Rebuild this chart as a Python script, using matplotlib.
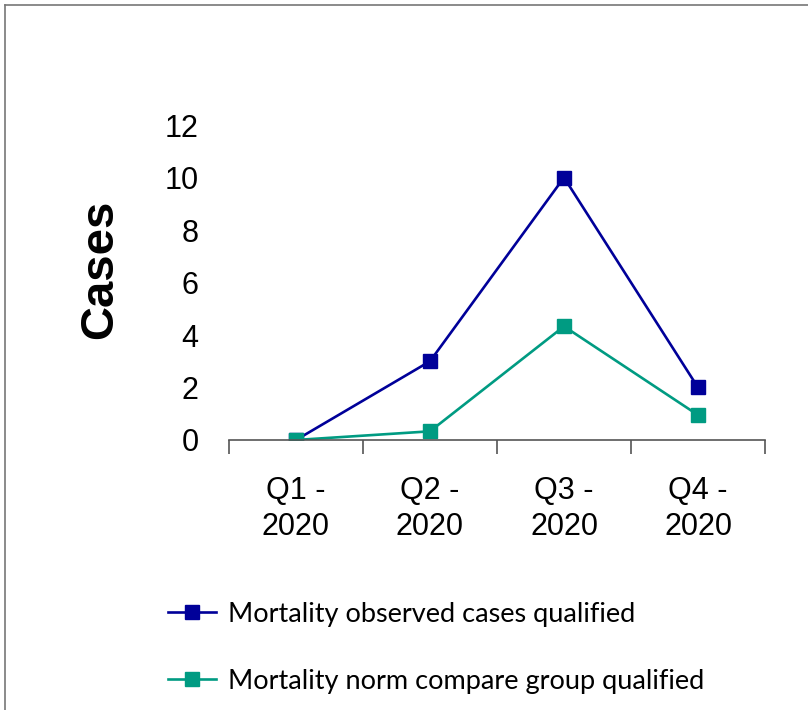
import numpy as np
import matplotlib.pyplot as plt
from matplotlib.lines import Line2D

# data
quarters = ['Q1 -\n2020', 'Q2 -\n2020', 'Q3 -\n2020', 'Q4 -\n2020']
observed = [0, 3, 10, 2]
norm_group = [0, 0.33, 4.33, 0.95]
series_names = ['Mortality observed cases qualified',
                'Mortality norm compare group qualified']
y_ticks = [0, 2, 4, 6, 8, 10, 12]

blue = '#000099'
green = '#009B82'

fig = plt.figure(figsize=(8.08, 7.10), dpi=100)
ax = fig.add_axes([0.2834, 0.3803, 0.6634, 0.4436])

x = np.arange(len(quarters))
l1, = ax.plot(x, observed, color=blue, lw=1.9, marker='s', markersize=9.5)
l2, = ax.plot(x, norm_group, color=green, lw=1.9, marker='s', markersize=9.5)

ax.set_xlim(-0.5, len(quarters) - 0.5)
ax.set_ylim(0, 12)
ax.set_yticks(y_ticks)
ax.tick_params(axis='y', length=0, pad=22, labelsize=22)
for t in ax.get_yticklabels():
    t.set_fontfamily('Liberation Sans')

# ticks at category boundaries, labels at category centers
ax.set_xticks(np.arange(-0.5, len(quarters), 1.0))
ax.set_xticklabels([])
ax.set_xticks(x, minor=True)
ax.set_xticklabels(quarters, minor=True, fontsize=22, family='Liberation Sans',
                   linespacing=1.25)
ax.tick_params(axis='x', which='major', length=10, color='#555555', width=1.2)
ax.tick_params(axis='x', which='minor', length=0, pad=26)

for s in ['top', 'right', 'left']:
    ax.spines[s].set_visible(False)
ax.spines['bottom'].set_color('#555555')
ax.spines['bottom'].set_linewidth(1.2)

fig.text(0.124, 0.621, 'Cases', rotation=90, fontsize=34, fontweight='bold',
         family='Liberation Sans', ha='center', va='center')

fig.legend([l1, l2], series_names, loc='upper left', bbox_to_anchor=(0.195, 0.168),
           frameon=False, prop={'family': 'Lato', 'size': 19.5},
           handlelength=1.75, handletextpad=0.45, labelspacing=1.55,
           borderaxespad=0)

# outer frame (top and left edges)
fig.add_artist(Line2D([5/808, 1], [1 - 5/710, 1 - 5/710], color='#777777', lw=1.2))
fig.add_artist(Line2D([5/808, 5/808], [0, 1 - 5/710], color='#777777', lw=1.2))

fig.savefig('out.png', dpi=100)
